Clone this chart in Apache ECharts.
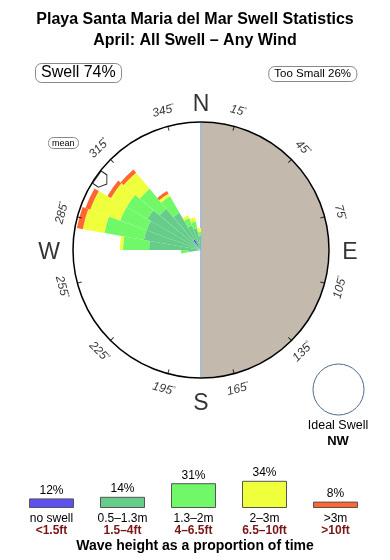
<!DOCTYPE html>
<html><head><meta charset="utf-8">
<script src="https://cdn.jsdelivr.net/npm/echarts@6/dist/echarts.min.js"></script>
<style>html,body{margin:0;padding:0;background:#fff}#c{width:390px;height:560px}</style>
</head><body><div id="c"></div>
<script>
// Direction bins (compass degrees, start of each 10° bin)
const dirBins = ['0','10','20','30','40','50','60','70','80','90','100','110','120','130','140','150','160','170',
                 '180','190','200','210','220','230','240','250','260','270','280','290','300','310','320','330','340','350'];
// Radial segment lengths per bin (relative scale, full circle = 128)
const noSwell  = [0,0,0,0,0,0,0,0,0,0,0,0,0,0,0,0,0,0, 0,0,0,0,0,0,0,0,0,0,0,0,0,0,12,0,0,0];
const h05_13   = [0,0,0,0,0,0,0,0,0,0,0,0,0,0,0,0,0,0, 0,0,0,0,0,0,0,0,12,52,58,58,62,54,31,26,22,14];
const h13_2    = [0,0,0,0,0,0,0,0,0,0,0,0,0,0,0,0,0,0, 0,0,0,0,0,0,0,0,8,26,40,28,24,26,19,8,7,4];
const h2_3     = [0,0,0,0,0,0,0,0,0,0,0,0,0,0,0,0,0,0, 0,0,0,0,0,0,0,0,0,3,22,32,18,21,3,3,4,4];
const h3plus   = [0,0,0,0,0,0,0,0,0,0,0,0,0,0,0,0,0,0, 0,0,0,0,0,0,0,0,0,0,6,5,4,4,3,0,0,0];

const meanDir = 305;
const tickDegs = [15,45,75,105,135,165,195,225,255,285,315,345];
const compass = [['N',0,148.5],['E',90,149],['S',180,150.5],['W',270,152]];

// Legend (share of time per height class)
const classNames = ['no swell','0.5–1.3m','1.3–2m','2–3m','>3m'];
const classFeet  = ['<1.5ft','1.5–4ft','4–6.5ft','6.5–10ft','>10ft'];
const classShare = [12,14,31,34,8];
const classColors = ['#5f50f0','#66cc8a','#70f868','#f0ff3c','#ff6633'];

const chart = echarts.init(document.getElementById('c'), null, {renderer:'canvas'});
const FF = "'Liberation Sans', Arial, Helvetica, sans-serif";

function lblRot(a){ // ECharts rotate is counter-clockwise
  if (a > 90 && a < 270) return 180 - a;
  const cw = a > 180 ? a - 360 : a;
  return -cw;
}

const barSeries = [noSwell,h05_13,h13_2,h2_3,h3plus].map((d,i)=>({
  type:'bar', coordinateSystem:'polar', polarIndex:0, stack:'swell', data:d,
  barCategoryGap:'0%', itemStyle:{color:classColors[i]}, silent:true, z:3
}));

const option = {
  animation:false,
  textStyle:{fontFamily:FF},
  title:[
    {text:'Playa Santa Maria del Mar Swell Statistics', left:'center', top:12, padding:0,
     textStyle:{fontSize:16, fontWeight:'bold', color:'#000', fontFamily:FF}},
    {text:'April: All Swell – Any Wind', left:'center', top:33, padding:0,
     textStyle:{fontSize:16, fontWeight:'bold', color:'#000', fontFamily:FF}},
    {text:'Swell 74%', left:35, top:63, padding:[2,6,2,6], borderColor:'#888', borderWidth:1, borderRadius:6,
     textStyle:{fontSize:16, fontWeight:'normal', color:'#000', fontFamily:FF}},
    {text:'Too Small 26%', right:33, top:66, padding:[2,6,2,6], borderColor:'#888', borderWidth:1, borderRadius:6,
     textStyle:{fontSize:11.5, fontWeight:'normal', color:'#000', fontFamily:FF}},
    {text:'mean', left:48, top:137, padding:[2,4,1,4], borderColor:'#888', borderWidth:1, borderRadius:5,
     textStyle:{fontSize:9, fontWeight:'normal', color:'#000', fontFamily:FF}}
  ],
  polar:[
    {center:[201,250], radius:128},
    {center:[201,250], radius:160}
  ],
  angleAxis:[
    {polarIndex:0, type:'category', data:dirBins, startAngle:90, clockwise:true, boundaryGap:true, z:10,
     axisLine:{show:true, lineStyle:{color:'#000', width:1.5}}, axisTick:{show:false}, axisLabel:{show:false}, splitLine:{show:false}},
    {polarIndex:1, type:'value', min:0, max:360, startAngle:90, clockwise:true,
     axisLine:{show:false}, axisTick:{show:false}, axisLabel:{show:false}, splitLine:{show:false}}
  ],
  radiusAxis:[
    {polarIndex:0, type:'value', min:0, max:128, show:false},
    {polarIndex:1, type:'value', min:0, max:160, show:false}
  ],
  grid:{left:16, width:355, bottom:52, height:30},
  xAxis:{type:'category', data:classNames, axisLine:{show:false}, axisTick:{show:false},
    axisLabel:{interval:0, margin:5, formatter:(v,i)=>'{a|'+v+'}\n{b|'+classFeet[i]+'}',
      rich:{a:{fontSize:12, color:'#000', lineHeight:12, fontFamily:FF},
            b:{fontSize:12, color:'#7a1616', fontWeight:'bold', lineHeight:12, fontFamily:FF}}}},
  yAxis:{type:'value', min:0, max:37.5, show:false},
  graphic:[
    {type:'circle', shape:{cx:338.5, cy:389.5, r:25.5}, style:{fill:'#fff', stroke:'#4a6a8a', lineWidth:1}},
    {type:'text', x:338, y:426, style:{text:'Ideal Swell', align:'center', verticalAlign:'middle', textAlign:'center', textVerticalAlign:'middle', font:'12.5px '+FF, fill:'#000'}},
    {type:'text', x:338, y:441, style:{text:'NW', align:'center', verticalAlign:'middle', textAlign:'center', textVerticalAlign:'middle', font:'bold 13px '+FF, fill:'#000'}},
    {type:'text', x:195, y:546, style:{text:'Wave height as a proportion of time', align:'center', verticalAlign:'middle', textAlign:'center', textVerticalAlign:'middle', font:'bold 14px '+FF, fill:'#000'}}
  ],
  series:[
    {type:'pie', center:[201,250], radius:[0,127.5], startAngle:90, clockwise:true, silent:true, z:1,
     label:{show:false}, labelLine:{show:false}, emphasis:{disabled:true},
     data:[{value:180, name:'land', itemStyle:{color:'#c4b9ad'}}, {value:180, name:'sea', itemStyle:{color:'rgba(0,0,0,0)'}}]},
    {type:'line', coordinateSystem:'polar', polarIndex:1, data:[[127,0],[127,180]], symbol:'none', silent:true, z:2,
     lineStyle:{color:'#a8bccf', width:2}},
    ...barSeries,
    {type:'scatter', coordinateSystem:'polar', polarIndex:1, silent:true, z:5,
     symbol:'path://M0,6 L9,0 L18,6 L18,14 L0,14 Z', symbolSize:[15,12], symbolRotate:180-meanDir,
     itemStyle:{color:'#fff', borderColor:'#000', borderWidth:1},
     data:[[121, meanDir]]},
    {type:'scatter', coordinateSystem:'polar', polarIndex:1, silent:true, z:6,
     symbol:'rect', itemStyle:{color:'#000'},
     data:tickDegs.map(a=>({value:[126,a], symbolSize:[1,5], symbolRotate:-a}))},
    {type:'scatter', coordinateSystem:'polar', polarIndex:1, silent:true, z:6,
     symbolSize:1, itemStyle:{color:'rgba(0,0,0,0)'},
     data:tickDegs.map(a=>({value:[144,a], label:{show:true, position:'inside', rotate:lblRot(a),
        formatter:'{n|'+a+'}{d|°}',
        rich:{n:{fontSize:12, fontStyle:'italic', color:'#000', fontFamily:FF},
              d:{fontSize:7, verticalAlign:'top', color:'#000', fontFamily:FF}}}}))},
    {type:'scatter', coordinateSystem:'polar', polarIndex:1, silent:true, z:6,
     symbolSize:1, itemStyle:{color:'rgba(0,0,0,0)'},
     data:compass.map(c=>({value:[c[2],c[1]], label:{show:true, position:'inside', formatter:c[0], offset:[0,3],
        fontSize:23, color:'#000', fontFamily:FF}}))},
    {type:'bar', data:classShare.map((v,i)=>({value:v, itemStyle:{color:classColors[i]}})),
     barWidth:45, silent:true, itemStyle:{borderColor:'#555', borderWidth:1},
     label:{show:true, position:'top', distance:2, formatter:'{c}%', fontSize:12, color:'#000', fontFamily:FF}}
  ]
};
chart.setOption(option);
</script>
</body></html>
